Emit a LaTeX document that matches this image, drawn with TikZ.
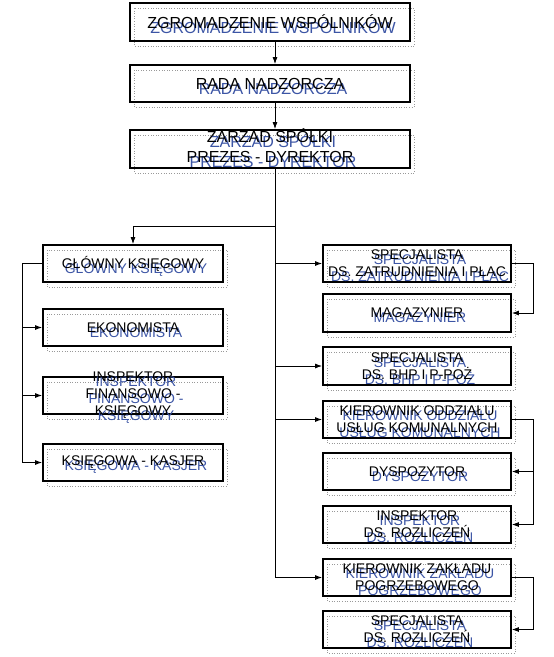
\documentclass[tikz,border=0pt]{standalone}
\usepackage{fontspec}
\setmainfont{Liberation Sans}
\usetikzlibrary{arrows.meta}
\definecolor{txtblue}{RGB}{60,85,165}
\tikzset{
  solidbox/.style={draw=black, line width=1.8pt, inner sep=0pt},
  dotbox/.style={draw=gray!80, dotted, line width=0.6pt},
  txt/.style={align=center, inner sep=0pt},
  bigfont/.style={font=\fontsize{16}{20}\selectfont},
  smallfont/.style={font=\fontsize{14}{17}\selectfont},
  conn/.style={draw=black, line width=0.9pt},
  arr/.style={conn, -{Latex[length=7pt,width=5pt]}}
}
% #1 name, #2 cx, #3 cy, #4 w, #5 h, #6 font style, #7 text x shift/text y
\newcommand\orgbox[8]{%
  \draw[dotbox] (#2-#4/2+4,#3-#5/2+5) rectangle (#2+#4/2+4,#3+#5/2+5);
  \node[solidbox, minimum width=#4pt, minimum height=#5pt] (#1) at (#2,#3) {};
  \node[txt,#6,text=txtblue] (#1-b) at (#2+3,#7+5) {#8};
  \node[txt,#6,text=black] (#1-t) at (#2,#7) {#8};
}
\begin{document}
\begin{tikzpicture}[x=1pt,y=-1pt]
\fill[white] (0,0) rectangle (554,657);
\useasboundingbox (0,0) rectangle (554,657);

\orgbox{A}{270}{22}{280}{38}{bigfont}{22}{ZGROMADZENIE WSPÓLNIKÓW}
\orgbox{B}{270}{83.5}{280}{37}{bigfont}{83.5}{RADA NADZORCZA}
\orgbox{C}{270}{149}{280}{38}{bigfont}{146}{ZARZAD SPÓŁKI\\PREZES - DYREKTOR}

\orgbox{D}{133}{263.5}{180}{37}{smallfont}{263.5}{GŁÓWNY KSIĘGOWY}
\orgbox{E}{133}{327.5}{180}{37}{smallfont}{327.5}{EKONOMISTA}
\orgbox{F}{133}{395.5}{180}{37}{smallfont}{395}{INSPEKTOR\\FINANSOWO -\\KSIĘGOWY}
\orgbox{G}{133}{462.5}{180}{37}{smallfont}{462.5}{KSIĘGOWA - KASJER}

\orgbox{H}{417}{263.5}{188}{37}{smallfont}{263.5}{SPECJALISTA\\DS. ZATRUDNIENIA I PŁAC}
\orgbox{I}{417}{313}{188}{38}{smallfont}{313}{MAGAZYNIER}
\orgbox{J}{417}{366}{188}{38}{smallfont}{366}{SPECJALISTA\\DS. BHP I P-POŻ}
\orgbox{K}{417}{419.5}{188}{37}{smallfont}{419.5}{KIEROWNIK ODDZIAŁU\\USŁUG KOMUNALNYCH}
\orgbox{L}{417}{471.5}{188}{37}{smallfont}{471.5}{DYSPOZYTOR}
\orgbox{M}{417}{524.5}{188}{37}{smallfont}{524.5}{INSPEKTOR\\DS. ROZLICZEŃ}
\orgbox{N}{417}{577.5}{188}{37}{smallfont}{577.5}{KIEROWNIK ZAKŁADU\\POGRZEBOWEGO}
\orgbox{O}{417}{629.5}{188}{37}{smallfont}{629.5}{SPECJALISTA\\DS. ROZLICZEŃ}

\coordinate (tx) at (275,0);
\coordinate (br) at (275,226);
\coordinate (lx) at (22,0);
\coordinate (rx) at (533,0);

\draw[arr] (tx |- A.south) -- (tx |- B.north);
\draw[arr] (tx |- B.south) -- (tx |- C.north);
\draw[arr] (tx |- C.south) |- (N.west);
\draw[arr] (br) -| (D.north);
\draw[arr] (tx |- H.west) -- (H.west);
\draw[arr] (tx |- J.west) -- (J.west);
\draw[arr] (tx |- K.west) -- (K.west);

\draw[arr] (D.west) -- (lx |- D.west) |- (G.west);
\draw[arr] (lx |- E.west) -- (E.west);
\draw[arr] (lx |- F.west) -- (F.west);

\draw[arr] (H.east) -- (rx |- H.east) |- (I.east);
\draw[arr] (K.east) -- (rx |- K.east) |- (M.east);
\draw[arr] (rx |- L.east) -- (L.east);
\draw[arr] (N.east) -- (rx |- N.east) |- (O.east);
\end{tikzpicture}
\end{document}
